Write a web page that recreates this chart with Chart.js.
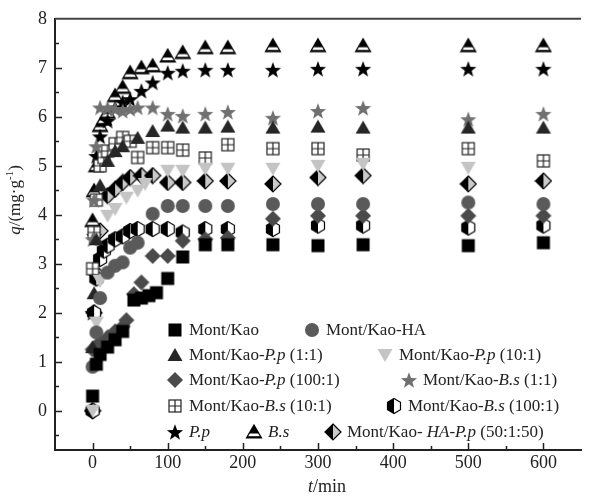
<!doctype html>
<html>
<head>
	<title>Adsorption kinetics</title>
	<script src="https://cdn.jsdelivr.net/npm/chart.js@4.4.1/dist/chart.umd.min.js"></script>
	<style>
	body { margin: 0; background: #fff; }
	</style>
</head>
<body>
	<canvas id="canvas" width="590" height="498"></canvas>
	<script>
		const SERIF = '"Liberation Serif", "Times New Roman", serif';

		const xTicks = [0, 100, 200, 300, 400, 500, 600];
		const yTicks = [0, 1, 2, 3, 4, 5, 6, 7, 8];

		// time (min) and q (mg/g) for each sample
		const tKao = [0, 5, 10, 20, 30, 40, 55, 65, 75, 85, 100, 120, 150, 180, 240, 300, 360, 500, 600];
		const qKao = [0.30, 0.95, 1.15, 1.30, 1.45, 1.62, 2.26, 2.30, 2.35, 2.41, 2.70, 3.14, 3.39, 3.39, 3.39, 3.37, 3.39, 3.37, 3.43];

		const tHA = [0, 5, 10, 20, 30, 40, 50, 60, 80, 100, 120, 150, 180, 240, 300, 360, 500, 600];
		const qHA = [0.90, 1.60, 2.30, 2.82, 2.96, 3.03, 3.33, 3.43, 4.02, 4.18, 4.18, 4.18, 4.18, 4.22, 4.22, 4.22, 4.25, 4.22];

		const tPp1 = [0, 2, 5, 10, 20, 30, 40, 60, 80, 100, 120, 150, 180, 240, 300, 360, 500, 600];
		const qPp1 = [1.30, 2.40, 3.50, 4.60, 5.10, 5.30, 5.40, 5.57, 5.71, 5.82, 5.78, 5.78, 5.80, 5.78, 5.80, 5.78, 5.78, 5.78];

		const tPp10 = [0, 5, 10, 20, 30, 45, 60, 70, 100, 120, 150, 180, 240, 300, 360, 500];
		const qPp10 = [0, 1.80, 2.65, 3.98, 4.12, 4.35, 4.49, 4.63, 4.90, 4.90, 4.94, 4.94, 4.94, 5.00, 5.04, 4.96];

		const tPp100 = [0, 10, 20, 30, 40, 45, 55, 65, 80, 100, 120, 150, 180, 240, 300, 360, 500, 600];
		const qPp100 = [1.25, 1.40, 1.50, 1.62, 1.72, 1.85, 2.38, 2.62, 3.16, 3.16, 3.47, 3.50, 3.53, 3.92, 3.98, 3.98, 3.98, 3.98];

		const tBs1 = [0, 2, 5, 10, 20, 30, 40, 50, 60, 80, 100, 120, 150, 180, 240, 300, 360, 500, 600];
		const qBs1 = [3.50, 4.30, 5.40, 6.19, 6.18, 6.16, 6.12, 6.16, 6.19, 6.19, 6.06, 6.02, 6.06, 6.10, 5.98, 6.12, 6.18, 5.95, 6.06];

		const tBs10 = [0, 2, 5, 10, 15, 20, 30, 40, 50, 60, 80, 100, 120, 150, 180, 240, 300, 360, 500, 600];
		const qBs10 = [2.90, 3.64, 4.30, 5.00, 5.17, 5.30, 5.45, 5.58, 5.50, 5.17, 5.37, 5.37, 5.32, 5.16, 5.43, 5.35, 5.35, 5.22, 5.35, 5.10];

		const tBs100 = [0, 2, 5, 10, 15, 20, 30, 40, 50, 60, 80, 100, 120, 150, 180, 240, 300, 360, 500, 600];
		const qBs100 = [0, 2.00, 2.70, 3.10, 3.27, 3.37, 3.50, 3.56, 3.67, 3.71, 3.71, 3.71, 3.64, 3.71, 3.71, 3.71, 3.78, 3.78, 3.74, 3.78];

		const tPp = [0, 2, 5, 10, 20, 30, 40, 50, 65, 80, 100, 120, 150, 180, 240, 300, 360, 500, 600];
		const qPp = [2.00, 3.57, 5.20, 5.60, 5.92, 6.19, 6.30, 6.36, 6.53, 6.70, 6.90, 6.94, 6.96, 6.96, 6.96, 6.98, 6.98, 6.98, 6.98];

		const tBs = [0, 2, 5, 10, 15, 20, 30, 40, 50, 65, 80, 100, 120, 150, 180, 240, 300, 360, 500, 600];
		const qBs = [3.88, 4.49, 5.00, 5.82, 5.96, 6.09, 6.43, 6.60, 6.90, 7.00, 7.04, 7.24, 7.31, 7.41, 7.41, 7.45, 7.45, 7.45, 7.45, 7.45];

		const tHaPp = [0, 2, 5, 10, 20, 30, 40, 50, 65, 80, 100, 120, 150, 180, 240, 300, 360, 500, 600];
		const qHaPp = [0, 2.00, 2.80, 3.67, 4.39, 4.52, 4.66, 4.76, 4.80, 4.80, 4.66, 4.66, 4.69, 4.69, 4.63, 4.76, 4.80, 4.63, 4.69];

		// marker images
		function marker(draw) {
			const c = document.createElement('canvas');
			c.width = 18;
			c.height = 18;
			const ctx = c.getContext('2d');
			ctx.translate(9, 9);
			draw(ctx);
			return c;
		}
		function poly(ctx, pts) {
			ctx.beginPath();
			pts.forEach((p, i) => i ? ctx.lineTo(p[0], p[1]) : ctx.moveTo(p[0], p[1]));
			ctx.closePath();
		}
		function starPath(ctx, R) {
			const pts = [];
			for (let i = 0; i < 10; i++) {
				const r = i % 2 ? R * 0.42 : R;
				const a = -Math.PI / 2 + i * Math.PI / 5;
				pts.push([r * Math.cos(a), r * Math.sin(a) + 0.8]);
			}
			poly(ctx, pts);
		}
		const tri = [[0, -7], [7.5, 6], [-7.5, 6]];

		const mSquare = marker(ctx => { ctx.fillStyle = '#000'; ctx.fillRect(-6.5, -6.5, 13, 13); });
		const mCircle = marker(ctx => { ctx.fillStyle = '#5a5a5a'; ctx.beginPath(); ctx.arc(0, 0, 7, 0, Math.PI * 2); ctx.fill(); });
		const mTri = marker(ctx => { ctx.fillStyle = '#262626'; poly(ctx, tri); ctx.fill(); });
		const mTriDown = marker(ctx => { ctx.fillStyle = '#c4c4c4'; poly(ctx, [[-7.5, -6], [7.5, -6], [0, 7]]); ctx.fill(); });
		const mDiamond = marker(ctx => { ctx.fillStyle = '#4a4a4a'; poly(ctx, [[0, -8], [8, 0], [0, 8], [-8, 0]]); ctx.fill(); });
		const mStarGray = marker(ctx => { ctx.fillStyle = '#707070'; starPath(ctx, 8.5); ctx.fill(); });
		const mStar = marker(ctx => { ctx.fillStyle = '#000'; starPath(ctx, 8.5); ctx.fill(); });
		const mCrossSq = marker(ctx => {
			ctx.fillStyle = '#fff';
			ctx.strokeStyle = '#222';
			ctx.lineWidth = 1.2;
			ctx.fillRect(-6, -6, 12, 12);
			ctx.strokeRect(-6, -6, 12, 12);
			ctx.beginPath();
			ctx.moveTo(0, -6); ctx.lineTo(0, 6);
			ctx.moveTo(-6, 0); ctx.lineTo(6, 0);
			ctx.stroke();
		});
		const hex = [];
		for (let i = 0; i < 6; i++) {
			const a = -Math.PI / 2 + i * Math.PI / 3;
			hex.push([7.5 * Math.cos(a), 7.5 * Math.sin(a)]);
		}
		const mHex = marker(ctx => {
			poly(ctx, hex);
			ctx.fillStyle = '#fff';
			ctx.fill();
			ctx.save();
			ctx.clip();
			ctx.fillStyle = '#000';
			ctx.fillRect(-9, -9, 9, 18);
			ctx.restore();
			poly(ctx, hex);
			ctx.strokeStyle = '#000';
			ctx.lineWidth = 1.2;
			ctx.stroke();
		});
		const mTriBand = marker(ctx => {
			poly(ctx, tri);
			ctx.fillStyle = '#fff';
			ctx.fill();
			ctx.save();
			ctx.clip();
			ctx.fillStyle = '#000';
			ctx.fillRect(-9, -9, 18, 10.5);
			ctx.fillRect(-9, 4.2, 18, 3);
			ctx.restore();
			poly(ctx, tri);
			ctx.strokeStyle = '#000';
			ctx.lineWidth = 1.2;
			ctx.stroke();
		});
		const mHalfDiamond = marker(ctx => {
			ctx.fillStyle = '#000';
			poly(ctx, [[0, -8], [0, 8], [-8, 0]]);
			ctx.fill();
			ctx.fillStyle = '#cacaca';
			poly(ctx, [[0, -8], [8, 0], [0, 8]]);
			ctx.fill();
			ctx.strokeStyle = '#000';
			ctx.lineWidth = 1.2;
			poly(ctx, [[0, -8], [8, 0], [0, 8], [-8, 0]]);
			ctx.stroke();
		});

		function pts(ts, qs) {
			return ts.map((t, i) => ({x: t, y: qs[i]}));
		}

		// legend labels: [text, italic]
		const series = [
			{label: [['Mont/Kao', 0]], data: pts(tKao, qKao), style: mSquare, lx: 175, ly: 330},
			{label: [['Mont/Kao-HA', 0]], data: pts(tHA, qHA), style: mCircle, lx: 312, ly: 330},
			{label: [['Mont/Kao-', 0], ['P.p', 1], [' (1:1)', 0]], data: pts(tPp1, qPp1), style: mTri, lx: 175, ly: 355},
			{label: [['Mont/Kao-', 0], ['P.p', 1], [' (10:1)', 0]], data: pts(tPp10, qPp10), style: mTriDown, lx: 385, ly: 355},
			{label: [['Mont/Kao-', 0], ['P.p', 1], [' (100:1)', 0]], data: pts(tPp100, qPp100), style: mDiamond, lx: 175, ly: 380},
			{label: [['Mont/Kao-', 0], ['B.s', 1], [' (1:1)', 0]], data: pts(tBs1, qBs1), style: mStarGray, lx: 409, ly: 380},
			{label: [['Mont/Kao-', 0], ['B.s', 1], [' (10:1)', 0]], data: pts(tBs10, qBs10), style: mCrossSq, lx: 175, ly: 406},
			{label: [['Mont/Kao-', 0], ['B.s', 1], [' (100:1)', 0]], data: pts(tBs100, qBs100), style: mHex, lx: 394, ly: 406},
			{label: [['P.p', 1]], data: pts(tPp, qPp), style: mStar, lx: 175, ly: 432},
			{label: [['B.s', 1]], data: pts(tBs, qBs), style: mTriBand, lx: 254, ly: 432},
			{label: [['Mont/Kao- ', 0], ['HA-P.p', 1], [' (50:1:50)', 0]], data: pts(tHaPp, qHaPp), style: mHalfDiamond, lx: 333, ly: 432}
		];

		function richText(ctx, x, y, segs, size) {
			let cx = x;
			segs.forEach(s => {
				ctx.font = (s[1] ? 'italic ' : '') + size + 'px ' + SERIF;
				ctx.fillText(s[0], cx, y);
				cx += ctx.measureText(s[0]).width;
			});
			return cx - x;
		}
		function richWidth(ctx, segs, size) {
			let w = 0;
			segs.forEach(s => {
				ctx.font = (s[1] ? 'italic ' : '') + size + 'px ' + SERIF;
				w += ctx.measureText(s[0]).width;
			});
			return w;
		}

		const decor = {
			id: 'decor',
			afterDraw(chart) {
				const ctx = chart.ctx;
				const a = chart.chartArea;
				const xs = chart.scales.x;
				const ys = chart.scales.y;
				ctx.save();
				ctx.strokeStyle = '#222';
				ctx.lineWidth = 1.5;
				ctx.beginPath();
				for (let v = 0; v <= 600; v += 50) {
					const px = Math.round(xs.getPixelForValue(v)) + 0.5;
					const len = v % 100 === 0 ? 7 : 4;
					ctx.moveTo(px, a.bottom);
					ctx.lineTo(px, a.bottom - len);
				}
				for (let v = -0.5; v <= 7.5; v += 0.5) {
					const py = Math.round(ys.getPixelForValue(v)) + 0.5;
					const len = Number.isInteger(v) ? 7 : 4;
					ctx.moveTo(a.left, py);
					ctx.lineTo(a.left + len, py);
				}
				ctx.stroke();
				// top frame line
				ctx.strokeStyle = '#444';
				ctx.lineWidth = 2;
				ctx.beginPath();
				ctx.moveTo(a.left, a.top);
				ctx.lineTo(a.right, a.top);
				ctx.stroke();

				ctx.fillStyle = '#222';
				ctx.textBaseline = 'middle';
				ctx.textAlign = 'left';
				// x title
				const xt = [['t', 1], ['/min', 0]];
				const xw = richWidth(ctx, xt, 18);
				richText(ctx, 327 - xw / 2, 487, xt, 18);
				// y title
				ctx.save();
				ctx.translate(16, 200);
				ctx.rotate(-Math.PI / 2);
				const yt = [['q', 1], ['/(mg·g', 0]];
				const yw = richWidth(ctx, yt, 17);
				ctx.font = '11px ' + SERIF;
				const supW = ctx.measureText('-1').width;
				ctx.font = '17px ' + SERIF;
				const closeW = ctx.measureText(')').width;
				let cx = -(yw + supW + closeW) / 2;
				cx += richText(ctx, cx, 0, yt, 17);
				ctx.font = '11px ' + SERIF;
				ctx.fillText('-1', cx, -6);
				cx += supW;
				ctx.font = '17px ' + SERIF;
				ctx.fillText(')', cx, 0);
				ctx.restore();

				// legend
				series.forEach(s => {
					ctx.drawImage(s.style, s.lx - 9, s.ly - 9);
					richText(ctx, s.lx + 14, s.ly + 1, s.label, 17);
				});
				ctx.restore();
			}
		};

		const ctx = document.getElementById('canvas').getContext('2d');
		new Chart(ctx, {
			type: 'scatter',
			data: {
				datasets: series.map(s => ({
					label: s.label.map(p => p[0]).join(''),
					data: s.data,
					pointStyle: s.style,
					pointRadius: 8,
					showLine: false
				}))
			},
			options: {
				responsive: false,
				animation: false,
				layout: {padding: {top: 18, right: 0, left: 0, bottom: 0}},
				plugins: {
					legend: {display: false},
					tooltip: {enabled: false}
				},
				scales: {
					x: {
						type: 'linear',
						min: -50,
						max: 650,
						grid: {display: false, drawTicks: false},
						border: {display: true, color: '#222', width: 2},
						afterFit(scale) { scale.height = 48; },
						afterBuildTicks(scale) { scale.ticks = xTicks.map(v => ({value: v})); },
						ticks: {
							padding: 2,
							maxRotation: 0,
							autoSkip: false,
							color: '#222',
							font: {family: SERIF, size: 18}
						}
					},
					y: {
						min: -0.8,
						max: 8,
						grid: {display: false, drawTicks: false},
						border: {display: true, color: '#222', width: 2},
						afterFit(scale) { scale.width = 55; },
						afterBuildTicks(scale) { scale.ticks = yTicks.map(v => ({value: v})); },
						ticks: {
							padding: 8,
							autoSkip: false,
							color: '#222',
							font: {family: SERIF, size: 18}
						}
					}
				}
			},
			plugins: [decor]
		});
	</script>
</body>
</html>
